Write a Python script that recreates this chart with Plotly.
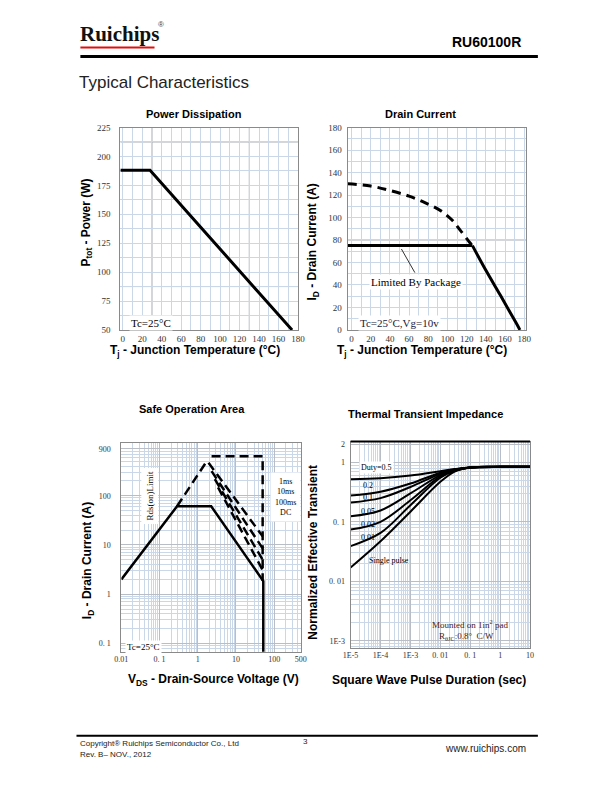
import plotly.graph_objects as go

W, H = 612, 792
OX, OY = 8, 8  # page body margin compensation

# ---------------- data ----------------
# Power dissipation
pd_temp = [-2.5, 28, 174]
pd_power = [188, 188, 50]

# Drain current
dc_temp_dash = [-4, 20, 40, 60, 77, 93, 105, 113, 122, 126]
dc_id_dash = [130, 128, 124, 119, 113, 106, 97.5, 89, 79, 75]
dc_temp_flat = [-4, 126]
dc_id_flat = [75, 75]
dc_temp_fall = [126, 140, 155, 165, 171, 175.5]
dc_id_fall = [75, 53, 31, 16, 7, 0]

# Safe operating area
soa_v_dc = [0.01, 0.287, 2.25, 52, 52]
soa_i_dc = [2.0, 61, 61, 1.85, 0.05]
soa_v_rds = [0.287, 1.45, 1.7, 1.89, 50]
soa_i_rds = [61, 420, 495, 472, 15]
soa_v_10ms = [2.3, 50]
soa_i_10ms = [316, 8.5]
soa_v_100ms = [2.8, 50]
soa_i_100ms = [216, 5]
soa_v_dcd = [3.4, 50]
soa_i_dcd = [147, 3.1]
soa_v_top = [2.3, 50, 50]
soa_i_top = [630, 630, 1.85]

# Thermal transient impedance
tt_time = [1e-5, 1e-4, 1e-3, 1e-2, 3e-2, 1e-1, 1, 10]
tt_d05 = [0.52, 0.54, 0.60, 0.71, 0.77, 0.82, 0.84, 0.84]
tt_d02 = [0.276, 0.32, 0.44, 0.67, 0.76, 0.82, 0.84, 0.84]
tt_d01 = [0.211, 0.25, 0.385, 0.64, 0.75, 0.82, 0.84, 0.84]
tt_d005 = [0.124, 0.155, 0.30, 0.61, 0.74, 0.82, 0.84, 0.84]
tt_d002 = [0.074, 0.10, 0.23, 0.58, 0.73, 0.82, 0.84, 0.84]
tt_d001 = [0.039, 0.065, 0.19, 0.55, 0.72, 0.82, 0.84, 0.84]
tt_single = [0.017, 0.047, 0.148, 0.47, 0.70, 0.82, 0.84, 0.84]

# tick labels
pd_xticks = list(range(0, 181, 20))
pd_yticks = [50, 75, 100, 125, 150, 175, 200, 225]
dc_xticks = list(range(0, 181, 20))
dc_yticks = list(range(0, 181, 20))
soa_xticks = [0.01, 0.1, 1, 10, 100, 500]
soa_xtext = ["0.01", "0. 1", "1", "10", "100", "500"]
soa_yticks = [0.1, 1, 10, 100, 900]
soa_ytext = ["0. 1", "1", "10", "100", "900"]
tt_xticks = [1e-5, 1e-4, 1e-3, 1e-2, 0.1, 1, 10]
tt_xtext = ["1E-5", "1E-4", "1E-3", "0. 01", "0. 1", "1", "10"]
tt_yticks = [1e-3, 1e-2, 0.1, 1, 2]
tt_ytext = ["1E-3", "0. 01", "0. 1", "1", "2"]

# a few slightly darker gridlines seen in the two linear charts
pd_dark_x = [30, 130]
pd_dark_y = [87.5, 212.5]
dc_dark_y = [80]

# ---------------- styles ----------------
GRID = "#cad7e9"
GRID_MAJ = "#b9bec6"
GRID_DARK = "#a9acb2"
BORDER = "#8a8a8a"
TICKFONT = dict(family="Liberation Serif", size=9, color="#333333")
TICKFONT_S = dict(family="Liberation Serif", size=8, color="#333333")


def PX(x):
    return (x - OX) / W


def PY(y):
    return 1 - (y - OY) / H


def xdom(a, b):
    return [PX(a), PX(b)]


def ydom(top, bottom):
    return [PY(bottom), PY(top)]


PD_XDOM, PD_YDOM, PD_XR, PD_YR = xdom(115, 297), ydom(124, 329), [-2.5, 180], [50, 225]
DC_XDOM, DC_YDOM, DC_XR, DC_YR = xdom(348, 531), ydom(124, 329), [-4, 182], [0, 180]

fig = go.Figure()

# Chart 1
fig.add_trace(go.Scatter(x=pd_temp, y=pd_power, mode="lines",
                         line=dict(color="black", width=3), xaxis="x", yaxis="y"))
# Chart 2
fig.add_trace(go.Scatter(x=dc_temp_dash, y=dc_id_dash, mode="lines", line_shape="spline",
                         line=dict(color="black", width=3, dash="9px,6px"), xaxis="x2", yaxis="y2"))
fig.add_trace(go.Scatter(x=dc_temp_flat, y=dc_id_flat, mode="lines",
                         line=dict(color="black", width=3), xaxis="x2", yaxis="y2"))
fig.add_trace(go.Scatter(x=dc_temp_fall, y=dc_id_fall, mode="lines", line_shape="spline",
                         line=dict(color="black", width=3), xaxis="x2", yaxis="y2"))
# Chart 3
for vx, iy in [(soa_v_rds, soa_i_rds), (soa_v_10ms, soa_i_10ms), (soa_v_100ms, soa_i_100ms),
               (soa_v_dcd, soa_i_dcd), (soa_v_top, soa_i_top)]:
    fig.add_trace(go.Scatter(x=vx, y=iy, mode="lines",
                             line=dict(color="black", width=2.5, dash="9px,5px"),
                             xaxis="x3", yaxis="y3"))
fig.add_trace(go.Scatter(x=soa_v_dc, y=soa_i_dc, mode="lines",
                         line=dict(color="black", width=2.5), xaxis="x3", yaxis="y3"))
# Chart 4
for ser in [tt_d05, tt_d02, tt_d01, tt_d005, tt_d002, tt_d001, tt_single]:
    fig.add_trace(go.Scatter(x=tt_time, y=ser, mode="lines", line_shape="spline",
                             line=dict(color="black", width=2), xaxis="x4", yaxis="y4"))


def lin_axis(domain, anchor, rng, tickvals, minor_dtick, minor_tick0, font, standoff=0):
    d = dict(domain=domain, anchor=anchor, range=rng, tickmode="array",
             tickvals=tickvals, ticktext=[str(v) for v in tickvals], ticks="", showgrid=True,
             gridcolor=GRID, gridwidth=1,
             minor=dict(dtick=minor_dtick, tick0=minor_tick0, showgrid=True,
                        gridcolor=GRID, gridwidth=1, ticks=""),
             showline=True, mirror=True, linecolor=BORDER, linewidth=1,
             zeroline=False, tickfont=font, fixedrange=True)
    if standoff:
        d["ticklabelstandoff"] = standoff
    return d


def log_minor(lo, hi):
    vals = []
    for e in range(lo, hi + 1):
        for m in range(2, 10):
            vals.append(m * 10.0 ** e)
    return vals


def log_axis(domain, anchor, rng, tickvals, ticktext, minor_vals, font, standoff=0):
    d = dict(domain=domain, anchor=anchor, type="log", range=rng, tickmode="array",
             tickvals=tickvals, ticktext=ticktext, ticks="", showgrid=True,
             gridcolor=GRID_MAJ, gridwidth=1,
             minor=dict(tickmode="array", tickvals=minor_vals, showgrid=True,
                        gridcolor=GRID, gridwidth=1, ticks=""),
             showline=True, mirror=True, linecolor=BORDER, linewidth=1,
             zeroline=False, tickfont=font, fixedrange=True)
    if standoff:
        d["ticklabelstandoff"] = standoff
    return d


fig.update_layout(
    width=W, height=H, margin=dict(l=0, r=0, t=0, b=0),
    paper_bgcolor="white", plot_bgcolor="white", showlegend=False,
    xaxis=lin_axis(PD_XDOM, "y", PD_XR, pd_xticks, 10, 0, TICKFONT),
    yaxis=lin_axis(PD_YDOM, "x", PD_YR, pd_yticks, 12.5, 50, TICKFONT, 7),
    xaxis2=lin_axis(DC_XDOM, "y2", DC_XR, dc_xticks, 10, 0, TICKFONT),
    yaxis2=lin_axis(DC_YDOM, "x2", DC_YR, dc_yticks, 10, 0, TICKFONT, 3),
    xaxis3=log_axis(xdom(116, 300), "y3", [-2, 2.699], soa_xticks, soa_xtext, log_minor(-2, 2), TICKFONT_S),
    yaxis3=log_axis(ydom(443, 655), "x3", [-1.17, 3.08], soa_yticks, soa_ytext, log_minor(-2, 3), TICKFONT_S, 8),
    xaxis4=log_axis(xdom(351, 535), "y4", [-5, 1], tt_xticks, tt_xtext, log_minor(-5, 1), TICKFONT_S),
    yaxis4=log_axis(ydom(442, 651), "x4", [-3.12, 0.35], tt_yticks, tt_ytext, log_minor(-4, 0), TICKFONT_S, 3),
)

annotations = []


def ann(text, x, y, size=10, family="Liberation Sans", xanchor="center", yanchor="middle",
        bold=False, angle=0, color="black", bg=None, pad=1):
    d = dict(text=text, x=PX(x), y=PY(y), xref="paper", yref="paper", showarrow=False,
             xanchor=xanchor, yanchor=yanchor, textangle=angle,
             font=dict(family=family, size=size, color=color, weight="bold" if bold else "normal"))
    if bg:
        d["bgcolor"] = bg
        d["borderpad"] = pad
    annotations.append(d)


# header
ann("Ruichips", 72, 29, size=21, family="Liberation Serif", xanchor="left", bold=True, color="#111111")
ann("®", 152, 20, size=8, family="Liberation Sans", xanchor="left", color="#444444")
ann("RU60100R", 528, 37, size=14, xanchor="right", bold=True)
ann("Typical Characteristics", 71, 78, size=17, xanchor="left", color="#222222")

# chart titles
ann("Power Dissipation", 190, 110, size=11, bold=True)
ann("Drain Current", 423, 110, size=11, bold=True)
ann("Safe Operation Area", 188, 409, size=11, bold=True)
ann("Thermal Transient Impedance", 428, 414, size=11, bold=True)

# axis titles
ann("T<sub>j</sub> - Junction Temperature (°C)", 192, 350, size=12, bold=True)
ann("T<sub>j</sub> - Junction Temperature (°C)", 424, 350, size=12, bold=True)
ann("P<sub>tot</sub> - Power (W)", 81, 220, size=12, bold=True, angle=-90)
ann("I<sub>D</sub> - Drain Current (A)", 313, 240, size=12, bold=True, angle=-90)
ann("I<sub>D</sub> - Drain Current (A)", 82, 563, size=12, bold=True, angle=-90)
ann("Normalized Effective Transient", 313, 554, size=12, bold=True, angle=-90)
ann("V<sub>DS</sub> - Drain-Source Voltage (V)", 210, 684, size=12, bold=True)
ann("Square Wave Pulse Duration (sec)", 431, 684, size=12, bold=True)

# in-chart notes
ann("Tc=25°C", 124, 322, size=11, family="Liberation Serif", xanchor="left", bg="white")
ann("Tc=25°C,Vg=10v", 359, 322, size=11, family="Liberation Serif", xanchor="left",
    color="#1a1a3a", bg="white")
ann("Limited By Package", 370, 280, size=11, family="Liberation Serif", xanchor="left", bg="white")
ann("Rds(on)Limit", 145, 497, size=9, family="Liberation Serif", angle=-90, bg="white", pad=3)
ann("1ms<br>10ms<br>100ms<br>DC", 284, 498, size=8, family="Liberation Serif", bg="white", pad=4)
ann("Tc=25°C", 120, 650, size=9, family="Liberation Serif", xanchor="left", bg="white")
ann("Duty=0.5", 360, 468, size=8, family="Liberation Serif", xanchor="left", bg="white")
ann("0.2", 362, 487, size=8, family="Liberation Serif", xanchor="left")
ann("0.1", 362, 499, size=8, family="Liberation Serif", xanchor="left")
ann("0.05", 360, 513, size=8, family="Liberation Serif", xanchor="left")
ann("0.02", 360, 526, size=8, family="Liberation Serif", xanchor="left")
ann("0.01", 360, 539, size=8, family="Liberation Serif", xanchor="left")
ann("Single pulse", 368, 562, size=8, family="Liberation Serif", xanchor="left")
ann("Mounted on 1in<sup>2</sup> pad", 473, 627, size=9, family="Liberation Serif", color="#4a2418")
ann("R<sub>θJC</sub>:0.8°  C/W", 470, 639, size=9, family="Liberation Serif", color="#4a2418")

# footer
ann("Copyright® Ruichips Semiconductor Co., Ltd", 72, 748, size=8, xanchor="left", color="#222222")
ann("Rev. B– NOV., 2012", 72, 759, size=8, xanchor="left", color="#222222")
ann("3", 305, 746, size=8, color="#222222")
ann("www.ruichips.com", 533, 753, size=10, xanchor="right", color="#222222")

fig.update_layout(annotations=annotations)


def to_paper(v, dom, rng):
    return dom[0] + (v - rng[0]) / (rng[1] - rng[0]) * (dom[1] - dom[0])


shapes = [
    # header rule and logo underline
    dict(type="line", xref="paper", yref="paper", x0=PX(74), x1=PX(543), y0=PY(52), y1=PY(52),
         line=dict(color="black", width=3)),
    dict(type="line", xref="paper", yref="paper", x0=PX(74), x1=PX(150), y0=PY(43), y1=PY(43),
         line=dict(color="#e01010", width=2)),
    # footer rule
    dict(type="line", xref="paper", yref="paper", x0=PX(70), x1=PX(543), y0=PY(740), y1=PY(740),
         line=dict(color="black", width=2)),
    # thermal chart top border
    dict(type="line", xref="paper", yref="paper", x0=PX(351), x1=PX(535), y0=PY(442), y1=PY(442),
         line=dict(color="black", width=2)),
    # leader line for package limit
    dict(type="line", xref="x2", yref="y2", x0=52, y0=72, x1=66, y1=51,
         line=dict(color="#333333", width=1)),
    # white box behind mounting note
    dict(type="rect", xref="paper", yref="paper", x0=PX(433), x1=PX(515), y0=PY(650), y1=PY(619),
         fillcolor="white", line=dict(width=0), layer="between"),
]
for xv in pd_dark_x:
    xp = to_paper(xv, PD_XDOM, PD_XR)
    shapes.append(dict(type="line", xref="paper", yref="paper", x0=xp, x1=xp,
                       y0=PD_YDOM[0], y1=PD_YDOM[1],
                       line=dict(color=GRID_DARK, width=1), layer="between"))
for yv in pd_dark_y:
    yp = to_paper(yv, PD_YDOM, PD_YR)
    shapes.append(dict(type="line", xref="paper", yref="paper", x0=PD_XDOM[0], x1=PD_XDOM[1],
                       y0=yp, y1=yp, line=dict(color=GRID_DARK, width=1), layer="between"))
for yv in dc_dark_y:
    yp = to_paper(yv, DC_YDOM, DC_YR)
    shapes.append(dict(type="line", xref="paper", yref="paper", x0=DC_XDOM[0], x1=DC_XDOM[1],
                       y0=yp, y1=yp, line=dict(color=GRID_DARK, width=1), layer="between"))
fig.update_layout(shapes=shapes)

fig.write_html("out.html")
